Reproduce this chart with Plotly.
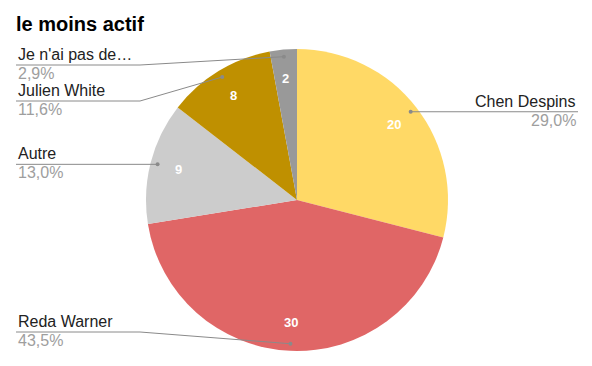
import math
import plotly.graph_objects as go

# ---- data ----
TITLE = "le moins actif"
categories = ["Chen Despins", "Reda Warner", "Autre", "Julien White", "Je n'ai pas de…"]
values = [20, 30, 9, 8, 2]
colors = ["#FFD966", "#E06666", "#CCCCCC", "#BF9000", "#999999"]

# ---- layout constants (page pixels) ----
W, H = 592, 366
OFF = 8  # default body margin of the html page
CX, CY, R = 297, 200, 151
DOT_R = 0.953 * R
VAL_R = 0.81 * R
LEFT_X, RIGHT_X = 16, 578
ELBOW_X = 140
Y_MIN, Y_MAX, GAP = 65, 332, 36
FONT = "Liberation Sans, Arial, sans-serif"

total = sum(values)
fcx, fcy = CX - OFF, CY - OFF
fig = go.Figure()
fig.add_trace(go.Pie(
    labels=categories, values=values, sort=False, direction="clockwise", rotation=0,
    marker=dict(colors=colors, line=dict(width=0)),
    textinfo="none", hoverinfo="label+value+percent", showlegend=False,
    domain=dict(x=[(fcx - R) / W, (fcx + R) / W], y=[(H - fcy - R) / H, (H - fcy + R) / H]),
))

mids = []
acc = 0
for v in values:
    mids.append((acc + v / 2) / total * 2 * math.pi)
    acc += v

def pt(theta, r):
    return CX + r * math.sin(theta), CY - r * math.cos(theta)

items = []
for i, (c, v, th) in enumerate(zip(categories, values, mids)):
    dx, dy = pt(th, DOT_R)
    side = "right" if math.sin(th) > 0 else "left"
    items.append(dict(i=i, name=c, v=v, th=th, dot=(dx, dy), side=side,
                      y=min(max(dy, Y_MIN), Y_MAX)))

for side in ("left", "right"):
    grp = sorted([it for it in items if it["side"] == side], key=lambda d: d["y"])
    prev = None
    for it in grp:
        if prev is not None and it["y"] < prev + GAP:
            it["y"] = prev + GAP
        prev = it["y"]

shapes = []
annotations = []
for it in items:
    dx, dy = it["dot"]
    ly = it["y"]
    lc = "#8a8a8a"
    if it["side"] == "left":
        if abs(ly - dy) > 2:
            path = f"M {LEFT_X} {ly} L {ELBOW_X} {ly} L {dx} {dy}"
        else:
            path = f"M {LEFT_X} {ly} L {dx} {ly}"
        xa, ax = LEFT_X, "left"
    else:
        if abs(ly - dy) > 2:
            path = f"M {RIGHT_X} {ly} L {W - ELBOW_X} {ly} L {dx} {dy}"
        else:
            path = f"M {RIGHT_X} {ly} L {dx} {ly}"
        xa, ax = RIGHT_X, "right"
    shapes.append(dict(type="path", path=path, xref="x", yref="y",
                       line=dict(color=lc, width=1)))
    shapes.append(dict(type="circle", xref="x", yref="y",
                       x0=dx - 2, x1=dx + 2, y0=dy - 2, y1=dy + 2,
                       fillcolor=lc, line=dict(width=0)))
    pct = f"{it['v'] / total * 100:.1f}".replace(".", ",") + "%"
    annotations.append(dict(x=xa, y=ly, xref="x", yref="y", xanchor=ax, yanchor="bottom",
                            text=it["name"], showarrow=False,
                            font=dict(family=FONT, size=16, color="#222222")))
    annotations.append(dict(x=xa, y=ly - 2, xref="x", yref="y", xanchor=ax, yanchor="top",
                            text=pct, showarrow=False,
                            font=dict(family=FONT, size=16, color="#9e9e9e")))
    tx, ty = pt(it["th"], VAL_R)
    annotations.append(dict(x=tx, y=ty, xref="x", yref="y", xanchor="center", yanchor="middle",
                            text=f"<b>{it['v']}</b>", showarrow=False,
                            font=dict(family=FONT, size=13, color="#ffffff")))

annotations.append(dict(x=LEFT_X - 2, y=24, xref="x", yref="y", xanchor="left", yanchor="middle",
                        text=f"<b>{TITLE}</b>", showarrow=False,
                        font=dict(family=FONT, size=20, color="#000000")))

fig.update_layout(
    width=W, height=H, margin=dict(l=0, r=0, t=0, b=0),
    paper_bgcolor="#ffffff", plot_bgcolor="rgba(0,0,0,0)",
    xaxis=dict(range=[OFF, W + OFF], visible=False, fixedrange=True),
    yaxis=dict(range=[H + OFF, OFF], visible=False, fixedrange=True),
    shapes=shapes, annotations=annotations,
)
fig.write_html("out.html")
